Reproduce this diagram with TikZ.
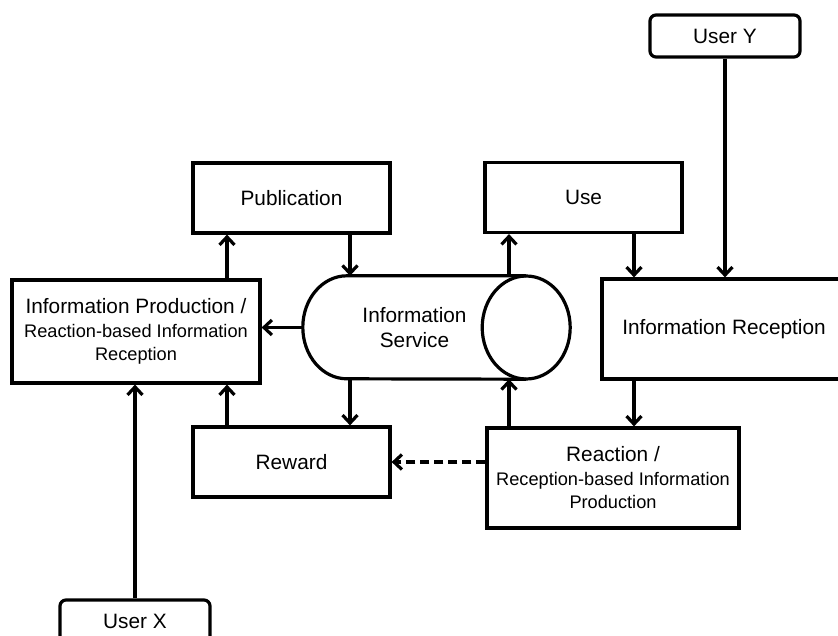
\documentclass[tikz,border=0pt]{standalone}
\usepackage{fontspec}
\setmainfont{Liberation Sans}
\usetikzlibrary{arrows.meta}
\newcommand{\bigtxt}{\fontsize{20.8}{25}\selectfont}
\newcommand{\smalltxt}{\fontsize{18.2}{22}\selectfont}
\begin{document}
\begin{tikzpicture}[x=1pt, y=-1pt,
    box/.style={draw, rectangle, line width=3.2pt, align=center, inner sep=2pt, font=\bigtxt},
    userbox/.style={draw, rectangle, rounded corners=6pt, line width=3.2pt, minimum width=150pt, minimum height=42pt, font=\bigtxt},
    arr/.style={line width=3.2pt, -{Straight Barb[length=8pt,width=15pt]}}]
    \useasboundingbox (0,0) rectangle (838,636);
    % Users
    \node[userbox] (usery) at (725,36) {User Y};
    \node[userbox] (userx) at (135,621) {User X};
    % Boxes
    \node[box, minimum width=248pt, minimum height=103pt] (prod) at (136,331.5) {Information Production /\\[-1pt]{\smalltxt Reaction-based Information}\\[-2pt]{\smalltxt Reception}};
    \node[box, minimum width=197pt, minimum height=70pt] (pub) at (291.5,198) {Publication};
    \node[box, minimum width=197pt, minimum height=70pt] (use) at (583.5,197.5) {Use};
    \node[box, minimum width=244pt, minimum height=100pt] (recep) at (724,329) {Information Reception};
    \node[box, minimum width=197pt, minimum height=70pt] (reward) at (291.5,462) {Reward};
    \node[box, minimum width=252pt, minimum height=100pt] (react) at (613,478) {Reaction /\\[-1pt]{\smalltxt Reception-based Information}\\[-2pt]{\smalltxt Production}};
    % Information service (cylinder body, then its caps)
    \node[rectangle, inner sep=0pt, minimum width=223pt, minimum height=103pt, align=center, font=\bigtxt] (serv) at (414.5,327.5) {Information\\Service};
    \draw[line width=3.2pt] (serv.north east) -- ([xshift=44pt]serv.north west)
        arc[start angle=90, end angle=270, x radius=44pt, y radius=51.5pt] -- (serv.south east);
    \draw[line width=3.2pt] (serv.east) ellipse [x radius=44pt, y radius=51.5pt];
    % Arrows
    \draw[arr] ([xshift=91pt]prod.north) -- ([xshift=-64.5pt]pub.south);
    \draw[arr] ([xshift=58.5pt]pub.south) -- ([xshift=58.5pt]pub.south |- serv.north);
    \draw[arr] ([xshift=-74.5pt]use.south |- serv.north) -- ([xshift=-74.5pt]use.south);
    \draw[arr] ([xshift=50.5pt]use.south) -- ([xshift=50.5pt]use.south |- recep.north);
    \draw[arr] (usery.south) -- (usery.south |- recep.north);
    \draw[arr] (serv.west) -- (prod.east |- serv.west);
    \draw[arr] ([xshift=58.5pt]reward.north |- serv.south) -- ([xshift=58.5pt]reward.north);
    \draw[arr] ([xshift=-64.5pt]reward.north) -- ([xshift=-64.5pt]reward.north |- prod.south);
    \draw[arr] ([xshift=-104pt]react.north) -- ([xshift=-104pt]react.north |- serv.south);
    \draw[arr] ([xshift=-90pt]recep.south) -- ([xshift=-90pt]recep.south |- react.north);
    \draw[arr, dash pattern=on 9pt off 5pt] (react.west |- reward.east) -- (reward.east);
    \draw[arr] (userx.north) -- (userx.north |- prod.south);
\end{tikzpicture}
\end{document}
